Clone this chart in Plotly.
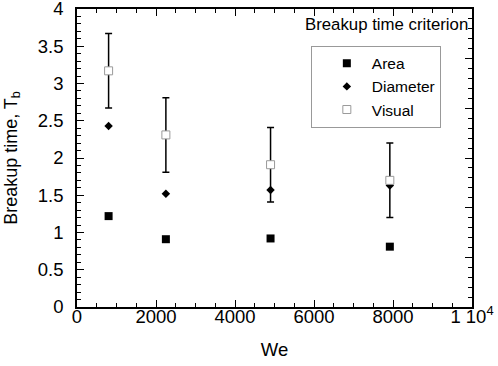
import plotly.graph_objects as go

# Data
we = [800, 2250, 4900, 7920]
area = [1.22, 0.91, 0.92, 0.81]
diameter = [2.43, 1.52, 1.57, 1.63]
visual = [3.17, 2.31, 1.91, 1.70]
visual_err = [0.5, 0.5, 0.5, 0.5]

x_tickvals = [0, 2000, 4000, 6000, 8000, 10000]
x_ticktext = ["0", "2000", "4000", "6000", "8000", "1 10<sup>4</sup>"]
y_tickvals = [0, 0.5, 1, 1.5, 2, 2.5, 3, 3.5, 4]
y_ticktext = ["0", "0.5", "1", "1.5", "2", "2.5", "3", "3.5", "4"]

FONT = "Liberation Sans, Arial, sans-serif"

fig = go.Figure()
fig.add_trace(go.Scatter(
    x=we, y=area, mode="markers", name="Area",
    marker=dict(symbol="square", size=8, color="black"),
))
fig.add_trace(go.Scatter(
    x=we, y=diameter, mode="markers", name="Diameter",
    marker=dict(symbol="diamond", size=6.5, color="black"),
))
fig.add_trace(go.Scatter(
    x=we, y=visual, mode="markers", name="Visual",
    marker=dict(symbol="square", size=8, color="white",
                line=dict(color="#9a9a9a", width=1)),
    error_y=dict(type="data", array=visual_err, color="black",
                 thickness=1.5, width=3.5),
))
# invisible trace to hold the right-hand axis
fig.add_trace(go.Scatter(
    x=[0], y=[0], yaxis="y2", mode="markers", showlegend=False,
    marker=dict(opacity=0), hoverinfo="skip",
))

fig.update_layout(
    width=498, height=366,
    margin=dict(l=77, r=26, t=9, b=59, autoexpand=False),
    paper_bgcolor="white", plot_bgcolor="white",
    font=dict(family=FONT, size=18, color="black"),
    showlegend=True,
    legend=dict(
        x=0.592, y=0.877, xanchor="left", yanchor="top",
        bordercolor="#999999", borderwidth=1, bgcolor="white",
        font=dict(size=15.5, family=FONT), indentation=10, itemwidth=40,
        entrywidth=100, entrywidthmode="pixels",
    ),
    xaxis=dict(
        range=[0, 10000], tickvals=x_tickvals, ticktext=x_ticktext,
        ticks="inside", ticklen=7, tickwidth=1, tickcolor="black",
        showline=True, linecolor="black", linewidth=1.5, mirror="ticks",
        showgrid=False, zeroline=False, automargin=False,
        minor=dict(dtick=500, ticks="inside", ticklen=4, tickwidth=1,
                   tickcolor="black", showgrid=False),
        title=dict(text="We", font=dict(size=18.5), standoff=17),
        tickfont=dict(size=18.5), ticklabelstandoff=-8,
        ticklabeloverflow="allow",
    ),
    yaxis=dict(
        range=[0, 4], tickvals=y_tickvals, ticktext=y_ticktext,
        ticks="inside", ticklen=7, tickwidth=1, tickcolor="black",
        showline=True, linecolor="black", linewidth=1.5,
        showgrid=False, zeroline=False, automargin=False,
        minor=dict(dtick=0.1, ticks="inside", ticklen=4, tickwidth=1,
                   tickcolor="black", showgrid=False),
        title=dict(text="Breakup time, T<sub>b</sub>", font=dict(size=18), standoff=16),
        tickfont=dict(size=18.5), ticklabelstandoff=8,
        ticklabeloverflow="allow",
    ),
    yaxis2=dict(
        range=[0, 6], overlaying="y", side="right", dtick=1,
        ticks="inside", ticklen=7, tickwidth=1, tickcolor="black",
        showline=True, linecolor="black", linewidth=1.5,
        showticklabels=False, showgrid=False, zeroline=False, automargin=False,
        minor=dict(dtick=0.2, ticks="inside", ticklen=4, tickwidth=1,
                   tickcolor="black", showgrid=False),
    ),
    annotations=[dict(
        text="Breakup time criterion", xref="paper", yref="paper",
        x=1.0, y=0.948, xanchor="right", yanchor="middle", xshift=-2,
        showarrow=False, font=dict(size=16.8, family=FONT),
    )],
)

fig.write_html("out.html", config={"displayModeBar": False},
               post_script="document.body.style.margin='0';")
